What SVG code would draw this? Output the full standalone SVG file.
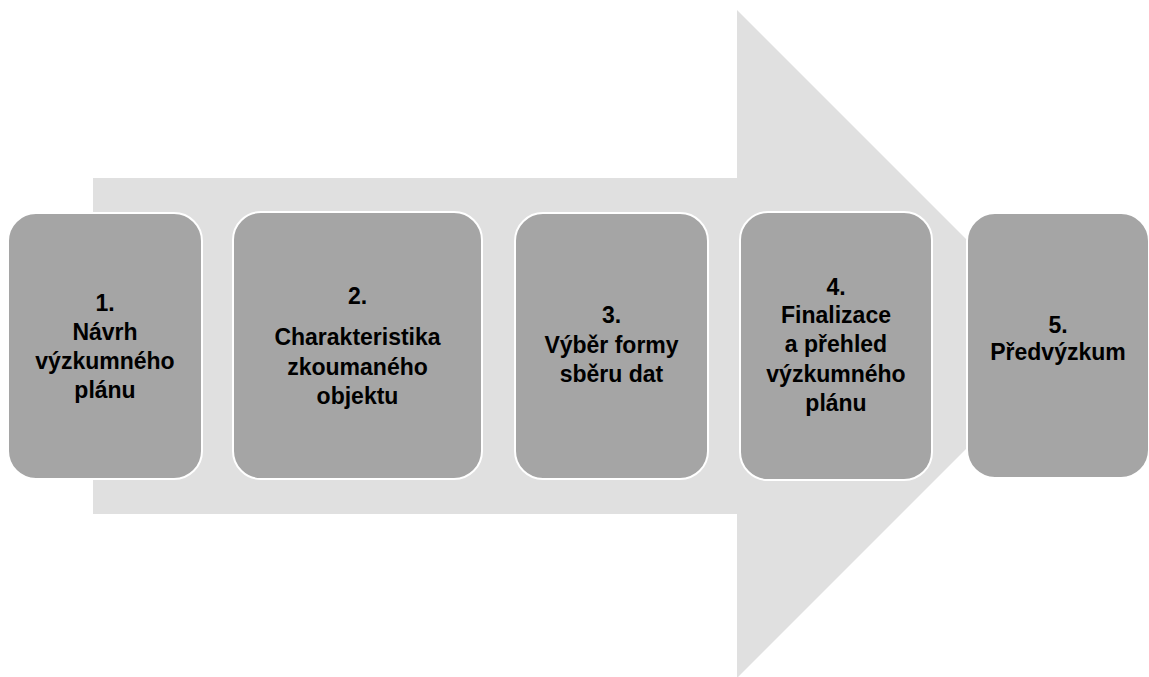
<svg xmlns="http://www.w3.org/2000/svg" width="1149" height="677" viewBox="0 0 1149 677">
  <style>
    .step { fill: #a5a5a5; stroke: #ffffff; stroke-width: 2; }
    .lbl { font-family: "Liberation Sans", Arial, sans-serif; font-weight: bold; font-size: 23px; fill: #000000; text-anchor: middle; }
  </style>
  <rect width="1149" height="677" fill="#ffffff"/>

  <!-- background process arrow -->
  <g id="connectors">
    <polygon points="93,178 737,178 737,10 1071,344 737,678 737,514 93,514" fill="#e0e0e0"/>
  </g>

  <g id="step1">
    <rect class="step" x="8" y="213" width="194" height="266" rx="28" ry="28"/>
    <text class="lbl" x="105" y="311">1.</text>
    <text class="lbl" x="105" y="340">Návrh</text>
    <text class="lbl" x="105" y="369">výzkumného</text>
    <text class="lbl" x="105" y="398">plánu</text>
  </g>

  <g id="step2">
    <rect class="step" x="233" y="212" width="249" height="267" rx="28" ry="28"/>
    <text class="lbl" x="357.5" y="304">2.</text>
    <text class="lbl" x="357.5" y="345">Charakteristika</text>
    <text class="lbl" x="357.5" y="375">zkoumaného</text>
    <text class="lbl" x="357.5" y="404">objektu</text>
  </g>

  <g id="step3">
    <rect class="step" x="515" y="213" width="193" height="266" rx="28" ry="28"/>
    <text class="lbl" x="611.5" y="323">3.</text>
    <text class="lbl" x="611.5" y="353">Výběr formy</text>
    <text class="lbl" x="611.5" y="382">sběru dat</text>
  </g>

  <g id="step4">
    <rect class="step" x="740" y="212" width="192" height="268" rx="28" ry="28"/>
    <text class="lbl" x="836" y="295">4.</text>
    <text class="lbl" x="836" y="323">Finalizace</text>
    <text class="lbl" x="836" y="352">a přehled</text>
    <text class="lbl" x="836" y="382">výzkumného</text>
    <text class="lbl" x="836" y="411">plánu</text>
  </g>

  <g id="step5">
    <rect class="step" x="967" y="213" width="182" height="265" rx="28" ry="28"/>
    <text class="lbl" x="1058" y="333">5.</text>
    <text class="lbl" x="1058" y="360">Předvýzkum</text>
  </g>
</svg>
